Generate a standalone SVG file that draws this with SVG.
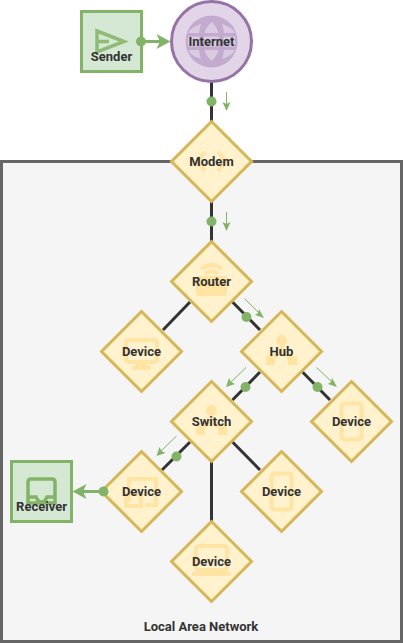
<svg xmlns="http://www.w3.org/2000/svg" width="403" height="643" viewBox="0 0 403 643">
<style>
text{font-family:Roboto,"Liberation Sans",sans-serif;font-weight:700;font-size:13px;fill:#333;text-anchor:middle}
.d{fill:#fff2cc;stroke:#d6b656;stroke-width:3}
.i{fill:#ffe4a3}
.ih{fill:none;stroke:#ffe4a3;stroke-width:4}
.g{fill:#d5e8d4;stroke:#82b366;stroke-width:3}
.c{stroke:#333;stroke-width:3;fill:none}
.f{stroke:#82b366;fill:none}
.dot{fill:#82b366}
.ah{fill:#82b366}
</style>
<rect x="1.500" y="161.500" width="400" height="480" fill="#f5f5f5" stroke="#666" stroke-width="3"/>
<text x="201" y="631">Local Area Network</text>
<g id="connectors">
<path class="c" d="M211.500 82V122M211.500 202V242M163 330L190 302M232.500 302L260 330M302.500 372L330 400M260 372L232.500 400M190 442L162 470M232.500 442L260 470M211.500 461V522"/>
<circle class="dot" cx="211.500" cy="101.500" r="5"/><circle class="dot" cx="211.500" cy="221.500" r="5"/><circle class="dot" cx="246.500" cy="317" r="5"/><circle class="dot" cx="245.500" cy="387" r="5"/><circle class="dot" cx="317.500" cy="387" r="5"/><circle class="dot" cx="176.500" cy="456.500" r="5"/>
<path class="f" stroke-width="1" d="M226.500 92V106M226.500 212V226M244.500 298.500L259 313M316.500 367.500L332 382M246 367.500L231 382M176.500 436L161 451"/>
<path class="ah" d="M226.500 111L222.500 102L226.500 104L230.500 102ZM226.500 231L222.500 222L226.500 224L230.500 222ZM264 318L255 315L258 313L259 309ZM337 387L328 384L331 382L332 378ZM226 387L229 378L231 382L235 384ZM156.500 456L159.500 447L161.500 451L165.500 453Z"/>
</g>
<g id="sender">
<rect class="g" x="81.500" y="11.500" width="60" height="60"/>
<path fill="none" stroke="#82b366" stroke-width="3.500" opacity=".85" d="M97 31L124 41.500L97 52ZM97 41.500H109"/>
<text x="111.500" y="61">Sender</text>
</g>
<g id="internet">
<circle cx="211.500" cy="41.500" r="40" fill="#e1d5e7" stroke="#9673a6" stroke-width="3"/>
<circle cx="211.500" cy="41.500" r="26" fill="#c3abd0"/>
<path fill="#e1d5e7" opacity=".75" d="M211.500 22Q206 27 204.500 33H218.500Q217 27 211.500 22ZM204.500 50H218.500Q217 56 211.500 61Q206 56 204.500 50ZM201 24Q191 27 188 33H199Q199.500 28 201 24ZM222 24Q232 27 235 33H224Q223.500 28 222 24ZM188 50H199Q199.500 55 201 59Q191 56 188 50ZM235 50H224Q223.500 55 222 59Q232 56 235 50ZM188 36.500H199.500V46.500H188ZM204 36.500H219V46.500H204ZM223.500 36.500H235V46.500H223.500Z"/>
<text x="211.500" y="46">Internet</text>
</g>
<g id="modem">
<path class="d" d="M211.500 121.500L251.500 161.500L211.500 201.500L171.500 161.500Z"/>
<path class="ih" d="M205 152L197 161.500L205 171M218 152L226 161.500L218 171" stroke-width="5"/>
<text x="211.500" y="166">Modem</text>
</g>
<g id="router">
<path class="d" d="M211.500 241.500L251.500 281.500L211.500 321.500L171.500 281.500Z"/>
<rect class="i" x="196" y="276" width="31" height="20" rx="3"/>
<path class="ih" stroke-width="3" d="M201 269Q211.500 261 222 269M205 274Q211.500 268 218 274"/>
<text x="211.500" y="286">Router</text>
</g>
<g id="device1">
<path class="d" d="M141.500 311.500L181.500 351.500L141.500 391.500L101.500 351.500Z"/>
<rect class="ih" x="126" y="340" width="31" height="22" rx="3"/>
<path class="i" d="M136 362H147V366H151V370H132V366H136Z"/>
<text x="141.500" y="356">Device</text>
</g>
<g id="hub">
<path class="d" d="M281.500 311.500L321.500 351.500L281.500 391.500L241.500 351.500Z"/>
<path class="i" d="M281.500 335a5.500 5.500 0 0 1 2 10.600V351L293 356H297V365H288V358L281.500 354L275 358V365H266V356H270L279.500 351V345.600A5.500 5.500 0 0 1 281.500 335Z"/>
<text x="281.500" y="356">Hub</text>
</g>
<g id="switch">
<path class="d" d="M211.500 381.500L251.500 421.500L211.500 461.500L171.500 421.500Z"/>
<path class="i" d="M211.500 405a5.500 5.500 0 0 1 2 10.600V421L223 426H227V435H218V428L211.500 424L205 428V435H196V426H200L209.500 421V415.600A5.500 5.500 0 0 1 211.500 405Z"/>
<text x="211.500" y="426">Switch</text>
</g>
<g id="device2">
<path class="d" d="M351.500 381.500L391.500 421.500L351.500 461.500L311.500 421.500Z"/>
<rect class="ih" x="341.500" y="403.500" width="20" height="36" rx="3" stroke-width="5"/>
<text x="351.500" y="426">Device</text>
</g>
<g id="device3">
<path class="d" d="M141.500 451.500L181.500 491.500L141.500 531.500L101.500 491.500Z"/>
<path class="ih" d="M129 502V479H156V505H145"/>
<rect class="ih" x="126" y="494" width="15" height="12"/>
<text x="141.500" y="496">Device</text>
</g>
<g id="device4">
<path class="d" d="M281.500 451.500L321.500 491.500L281.500 531.500L241.500 491.500Z"/>
<rect class="ih" x="271.500" y="473.500" width="20" height="36" rx="3" stroke-width="5"/>
<text x="281.500" y="496">Device</text>
</g>
<g id="device5">
<path class="d" d="M211.500 521.500L251.500 561.500L211.500 601.500L171.500 561.500Z"/>
<rect class="ih" x="196" y="546" width="31" height="24" rx="3"/>
<rect class="i" x="192" y="572" width="39" height="4"/>
<text x="211.500" y="566">Device</text>
</g>
<g id="receiver">
<rect class="g" x="11.500" y="461.500" width="60" height="60"/>
<path fill="none" stroke="#82b366" stroke-width="3.500" d="M28 497V482Q28 479 31 479H52Q55 479 55 482V503H28ZM28 497H36Q38 502 41.500 502Q45 502 47 497H55"/>
<text x="41.500" y="511">Receiver</text>
</g>
<g id="flows">
<circle class="dot" cx="141" cy="41.500" r="5"/><circle class="dot" cx="103.500" cy="491.500" r="5"/>
<path class="f" stroke-width="3" d="M141 41.500H165M103 491.500H80"/>
<path class="ah" d="M170.500 41.500L156.500 34L160 41.500L156.500 49ZM72.500 491.500L86.500 484L83 491.500L86.500 499Z"/>
</g>
</svg>
